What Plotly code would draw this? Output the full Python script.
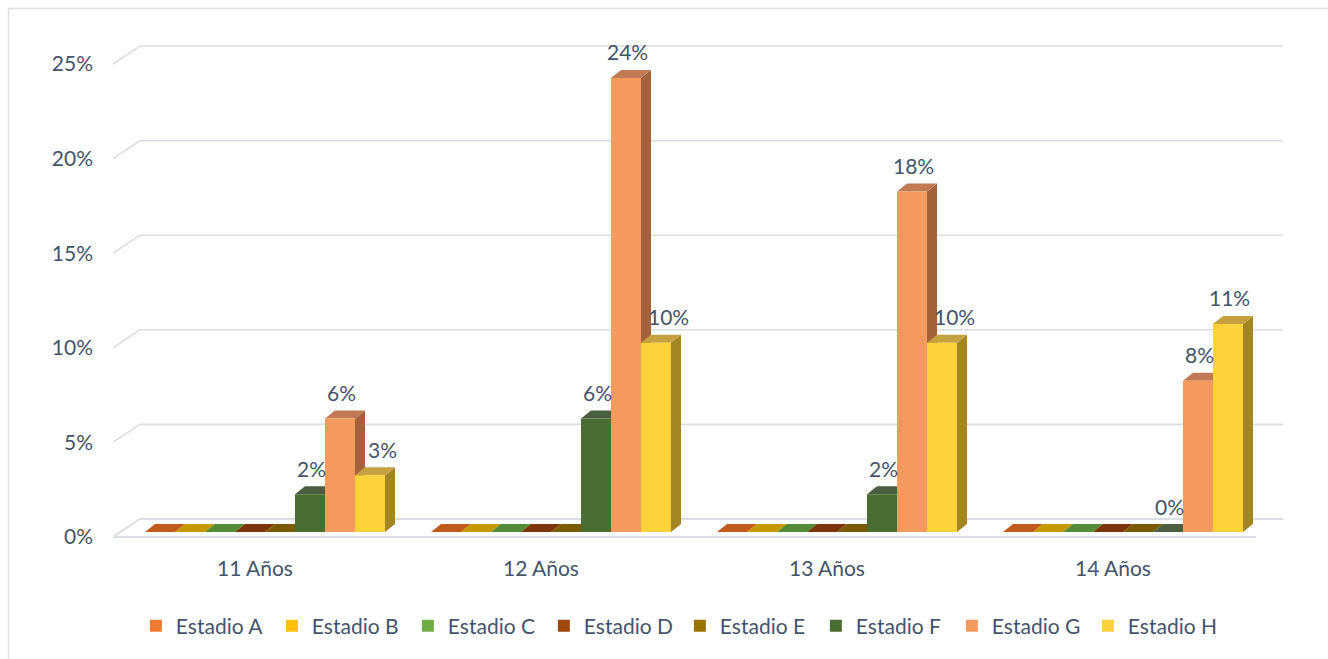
import plotly.graph_objects as go

# ---------------- data ----------------
categories = ["11 Años", "12 Años", "13 Años", "14 Años"]
series_names = ["Estadio A", "Estadio B", "Estadio C", "Estadio D",
                "Estadio E", "Estadio F", "Estadio G", "Estadio H"]
estadio_a = [0, 0, 0, 0]
estadio_b = [0, 0, 0, 0]
estadio_c = [0, 0, 0, 0]
estadio_d = [0, 0, 0, 0]
estadio_e = [0, 0, 0, 0]
estadio_f = [2, 6, 2, 0]
estadio_g = [6, 24, 18, 8]
estadio_h = [3, 10, 10, 11]
y_ticks = [0, 5, 10, 15, 20, 25]
y_tick_labels = ["0%", "5%", "10%", "15%", "20%", "25%"]
labelled_series = ["Estadio F", "Estadio G", "Estadio H"]

series_values = [estadio_a, estadio_b, estadio_c, estadio_d,
                 estadio_e, estadio_f, estadio_g, estadio_h]

# ---------------- styles ----------------
front_colors = ["#EE7B30", "#FFC107", "#6FAD47", "#9E480E",
                "#9A7300", "#4A6D32", "#F39A5E", "#FCD23A"]
top_colors = ["#C25A1C", "#C69900", "#548B36", "#7E3409",
              "#7A5B00", "#4B5F3F", "#C07B55", "#C6A140"]
side_colors = ["#A34A12", "#A27D00", "#43692A", "#632A06",
               "#614800", "#2F4A20", "#A5623A", "#A38622"]

FONT = "Lato"
TXT = "#44546A"
GRID = "#DADDE2"

W, H = 1328, 659
L, R, T, B = 113, 45, 30, 109
PLOT_W = W - L - R
PLOT_H = H - T - B
PX_Y = 18.92          # pixels per 1 %
Y0_PX = 532           # pixel row of value 0 (bar base)
PX_X = 286            # pixels per category
X0_PX = 265           # pixel column of first category centre

y_range = [-(T + PLOT_H - Y0_PX) / PX_Y, (Y0_PX - T) / PX_Y]
x_range = [(L - X0_PX) / PX_X, (L + PLOT_W - X0_PX) / PX_X]

n_series = len(series_names)
bw = 30 / PX_X                  # bar width (category units)
bargap = 1 - n_series * bw
ddx = 10 / PX_X                 # depth offsets
ddy = 8 / PX_Y
front_off = -5 / PX_Y           # front floor edge (tick label level)
back_off = 13 / PX_Y            # back wall level
diag_dx = 27 / PX_X

xs = list(range(len(categories)))

fig = go.Figure()
for name, vals, col in zip(series_names, series_values, front_colors):
    fig.add_trace(go.Bar(x=xs, y=vals, name=name,
                         marker=dict(color=col, line=dict(width=0)),
                         hoverinfo="skip"))

shapes = []
# back-wall gridlines
for v in y_ticks:
    yf = v + front_off
    yb = v + back_off
    shapes.append(dict(type="path", xref="x", yref="y", layer="below",
                       path=f"M{x_range[0]},{yf} L{x_range[0]+diag_dx},{yb} L{x_range[1]},{yb}",
                       line=dict(color=GRID, width=2 if v == 0 else 1.6)))
# floor front edge
shapes.append(dict(type="line", xref="x", yref="y", layer="below",
                   x0=x_range[0], x1=x_range[1] - diag_dx,
                   y0=front_off, y1=front_off,
                   line=dict(color=GRID, width=2)))

side_shapes, top_shapes = [], []
annotations = []
for j, (name, vals) in enumerate(zip(series_names, series_values)):
    for i, v in enumerate(vals):
        xl = i + (j - n_series / 2) * bw
        xr = xl + bw
        side_shapes.append(dict(type="path", xref="x", yref="y", layer="below",
                                path=f"M{xr},0 L{xr+ddx},{ddy} L{xr+ddx},{v+ddy} L{xr},{v} Z",
                                fillcolor=side_colors[j], line=dict(width=0)))
        top_shapes.append(dict(type="path", xref="x", yref="y", layer="below",
                               path=f"M{xl},{v} L{xr},{v} L{xr+ddx},{v+ddy} L{xl+ddx},{v+ddy} Z",
                               fillcolor=top_colors[j], line=dict(width=0)))
        if name in labelled_series:
            prev = series_values[j - 1][i]
            shift = 12 if prev > v + 1 else 1
            annotations.append(dict(x=(xl + xr) / 2, y=v, xref="x", yref="y",
                                    text=f"{v}%", showarrow=False,
                                    yanchor="middle", yshift=26, xshift=shift,
                                    font=dict(family=FONT, size=21, color=TXT)))

shapes += side_shapes + top_shapes

# chart-area border (left and top edges visible)
shapes.append(dict(type="rect", xref="paper", yref="paper", layer="below",
                   x0=(8.5 - L) / PLOT_W, x1=(W + 5 - L) / PLOT_W,
                   y0=(T + PLOT_H - H - 5) / PLOT_H, y1=(T + PLOT_H - 8.5) / PLOT_H,
                   line=dict(color="#DDE1E6", width=1.5)))

fig.update_layout(
    width=W, height=H,
    margin=dict(l=L, r=R, t=T, b=B, pad=0),
    paper_bgcolor="white", plot_bgcolor="white",
    barmode="group", bargap=bargap, bargroupgap=0,
    font=dict(family=FONT, size=21, color=TXT),
    shapes=shapes, annotations=annotations,
    showlegend=True,
    legend=dict(orientation="h", x=0.4845, xanchor="center",
                y=(T + PLOT_H - 626) / PLOT_H, yanchor="middle",
                font=dict(family=FONT, size=21, color=TXT),
                entrywidth=91, entrywidthmode="pixels",
                traceorder="normal", bgcolor="rgba(0,0,0,0)"),
    xaxis=dict(range=x_range, showgrid=False, zeroline=False, showline=False,
               tickmode="array", tickvals=[x - 10 / PX_X for x in xs],
               ticktext=categories, ticks="", ticklabelstandoff=4,
               tickfont=dict(size=21, color=TXT)),
    yaxis=dict(range=y_range, showgrid=False, zeroline=False, showline=False,
               tickmode="array", tickvals=[v + front_off for v in y_ticks],
               ticktext=y_tick_labels, ticks="", ticklabelstandoff=19,
               tickfont=dict(size=21, color=TXT)),
)

fig.write_html("out.html")
